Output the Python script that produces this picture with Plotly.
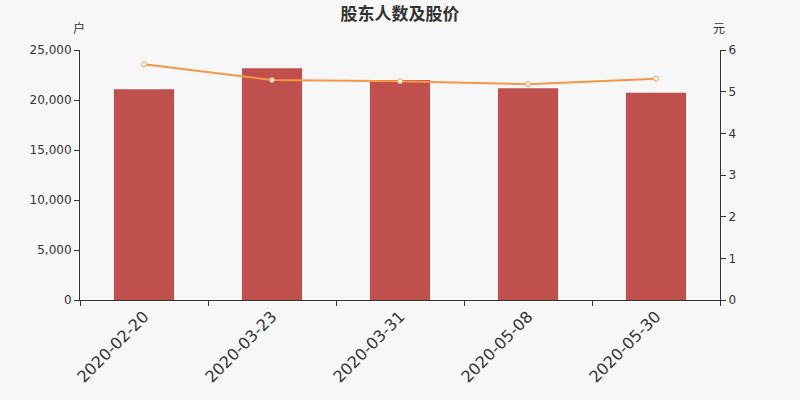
import plotly.graph_objects as go

dates = ["2020-02-20", "2020-03-23", "2020-03-31", "2020-05-08", "2020-05-30"]
holders = [21070, 23170, 22000, 21180, 20730]
prices = [5.66, 5.28, 5.25, 5.18, 5.31]

BAR = "#c0504d"
LINE = "#f79646"
AX = "#333333"
BG = "#f7f7f7"
FONT = "DejaVu Sans, Noto Sans CJK SC"

fig = go.Figure()
fig.add_trace(go.Bar(x=dates, y=holders, marker=dict(color=BAR, line=dict(width=0)),
                     name="股东人数", yaxis="y"))
fig.add_trace(go.Scatter(x=dates, y=prices, mode="lines+markers", name="股价", yaxis="y2",
                         line=dict(color=LINE, width=2),
                         marker=dict(size=5, color="white", line=dict(color=LINE, width=1))))

plot_h = 400 - 50 - 100
ypos = 1 + (50 - 29) / plot_h

fig.update_layout(
    width=800, height=400,
    paper_bgcolor=BG, plot_bgcolor=BG,
    margin=dict(l=80, r=80, t=50, b=100),
    showlegend=False,
    bargap=0.53,
    font=dict(family=FONT, color=AX, size=12),
    title=dict(text="<b>股东人数及股价</b>", x=0.5, xanchor="center", y=0.965, yanchor="middle",
               font=dict(size=17, color="#333333", family="Noto Sans CJK SC")),
    xaxis=dict(type="category", showline=True, linecolor=AX, linewidth=1,
               ticks="outside", tickson="boundaries", ticklen=5, tickcolor=AX,
               tickangle=-45, tickfont=dict(size=16, color=AX), showgrid=False),
    yaxis=dict(range=[0, 25000], dtick=5000, tickformat=",d", showline=True, linecolor=AX,
               ticks="outside", ticklen=5, tickcolor=AX, showgrid=False, zeroline=False,
               tickfont=dict(size=12, color=AX)),
    yaxis2=dict(range=[0, 6], dtick=1, overlaying="y", side="right", showline=True, linecolor=AX,
                ticks="outside", ticklen=5, tickcolor=AX, showgrid=False, zeroline=False,
                tickfont=dict(size=12, color=AX)),
    annotations=[
        dict(text="户", x=0, xref="paper", xanchor="center", xshift=-1, y=ypos, yref="paper",
             yanchor="middle", showarrow=False, font=dict(size=12, color=AX)),
        dict(text="元", x=1, xref="paper", xanchor="center", xshift=-1, y=ypos, yref="paper",
             yanchor="middle", showarrow=False, font=dict(size=12, color=AX)),
    ],
)

fig.write_html("out.html", config={"displayModeBar": False},
               post_script="document.body.style.margin='0';document.body.style.background='%s';" % BG)
